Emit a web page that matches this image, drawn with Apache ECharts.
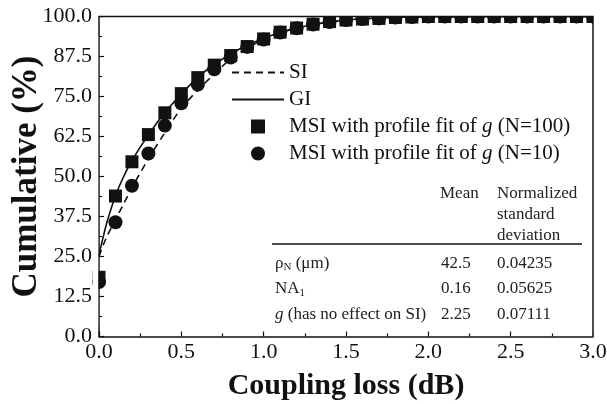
<!DOCTYPE html>
<html><head><meta charset="utf-8">
<script src="https://cdn.jsdelivr.net/npm/echarts@6/dist/echarts.min.js"></script>
<style>html,body{margin:0;padding:0;background:#fff}#c{width:607px;height:404px}</style>
</head><body><div id="c"></div>
<script>
// marker x positions (dB)
const msiX = [0.0,0.1,0.2,0.3,0.4,0.5,0.6,0.7,0.8,0.9,1.0,1.1,1.2,1.3,1.4,1.5,1.6,1.7,1.8,1.9,2.0,2.1,2.2,2.3,2.4,2.5,2.6,2.7,2.8,2.9,3.0];
const msiN100 = [18.5,43.9,54.6,63.1,69.9,75.9,80.9,84.8,87.8,90.6,93.0,95.1,96.4,97.6,98.4,98.9,99.2,99.4,99.7,99.85,100,100,100,100,100,100,100,100,100,100,100];
const msiN10  = [17.0,35.7,47.1,57.2,65.9,72.9,78.7,83.5,87.2,90.5,92.8,95.0,96.3,97.5,98.3,98.9,99.2,99.4,99.7,99.85,100,100,100,100,100,100,100,100,100,100,100];
// curves
const curveX = [0,0.025,0.05,0.1,0.15,0.2,0.3,0.4,0.5,0.6,0.7,0.8,0.9,1.0,1.1,1.2,1.3,1.4,1.5,1.6,1.8,2.0,2.5,3.0];
const giY    = [25.5,31,36,44,50,55,63,70,75.8,81,85,88.3,91,93.2,95,96.4,97.5,98.3,98.9,99.3,99.7,99.9,100,100];
const siY    = [25,28.5,31.5,36.5,41.5,46.5,55.5,63.7,71.3,77,82,86.8,90.2,92.8,94.9,96.3,97.4,98.3,98.9,99.3,99.7,99.9,100,100];
const yTicks = [0,12.5,25,37.5,50,62.5,75,87.5,100];
const legendNames = ['SI','GI','MSI with profile fit of g (N=100)','MSI with profile fit of g (N=10)'];
const tableHeader = ['Mean','Normalized','standard','deviation'];
const tableRows = [
  ['ρ{s|N} (μm)','42.5','0.04235'],
  ['NA{s|1}','0.16','0.05625'],
  ['{i|g} (has no effect on SI)','2.25','0.07111']
];

const F = '"Liberation Serif","Times New Roman",serif';
const zip = (xs, ys) => xs.map((x,i)=>[x,ys[i]]);
const chart = echarts.init(document.getElementById('c'), null, {renderer:'canvas'});

const rich = {
  i:{fontFamily:F,fontSize:21,fontStyle:'italic',color:'#111'}
};
const trich = {
  s:{fontFamily:F,fontSize:11,color:'#222',verticalAlign:'bottom',padding:[8,0,0,0]},
  i:{fontFamily:F,fontSize:17,fontStyle:'italic',color:'#222'}
};
const graphics = [];
const tx = (x,y,t) => graphics.push({type:'text',left:x,top:y,silent:true,z:20,style:{text:t,fontFamily:F,fontSize:17,fill:'#222',rich:trich}});
tx(440,185,tableHeader[0]);
tx(497,185,tableHeader[1]);
tx(497,206,tableHeader[2]);
tx(497,227,tableHeader[3]);
graphics.push({type:'line',silent:true,z:20,shape:{x1:272,y1:244,x2:582,y2:244},style:{stroke:'#111',lineWidth:1.5}});
tableRows.forEach((r,k)=>{
  const y = 255 + k*25.5;
  tx(275,y,r[0]); tx(441,y,r[1]); tx(497,y,r[2]);
});
const clearItem = {color:'rgba(0,0,0,0)',borderWidth:0};

chart.setOption({
  backgroundColor:'#fff',
  animation:false,
  grid:{left:99,right:14,top:16.5,bottom:67.5,containLabel:false,outerBoundsMode:'none',show:false},
  xAxis:{
    type:'value',min:0,max:3,interval:0.5,
    name:'Coupling loss (dB)',nameLocation:'middle',nameGap:35,nameMoveOverlap:false,
    nameTextStyle:{fontFamily:F,fontSize:30,fontWeight:'bold',color:'#111'},
    axisLine:{show:true,onZero:false,lineStyle:{color:'#111',width:1.5}},
    axisTick:{show:true,inside:true,length:5,lineStyle:{color:'#111',width:1.2}},
    minorTick:{show:true,splitNumber:2,length:3,lineStyle:{color:'#111',width:1.2}},
    axisLabel:{fontFamily:F,fontSize:22,color:'#111',margin:5,formatter:v=>v.toFixed(1)},
    splitLine:{show:false}
  },
  yAxis:{
    type:'value',min:0,max:100,interval:12.5,
    name:'Cumulative (%)',nameLocation:'middle',nameGap:55,nameRotate:90,nameMoveOverlap:false,
    nameTextStyle:{fontFamily:F,fontSize:35,fontWeight:'bold',color:'#111'},
    axisLine:{show:true,onZero:false,lineStyle:{color:'#111',width:1.5}},
    axisTick:{show:true,inside:true,length:5,lineStyle:{color:'#111',width:1.2}},
    minorTick:{show:true,splitNumber:2,length:3,lineStyle:{color:'#111',width:1.2}},
    axisLabel:{fontFamily:F,fontSize:22,color:'#111',margin:7,formatter:v=>yTicks.includes(v)?v.toFixed(1):''},
    splitLine:{show:false}
  },
  legend:{
    orient:'vertical',left:226,top:57,itemWidth:52,itemHeight:14,itemGap:6,z:20,
    textStyle:{fontFamily:F,fontSize:21,color:'#111',lineHeight:21,rich:rich},
    formatter:n=>n.replace(' g ',' {i|g} '),
    data:[
      {name:legendNames[0],itemStyle:clearItem},
      {name:legendNames[1],itemStyle:clearItem},
      {name:legendNames[2],icon:'path://M0,0L10,0L10,10L0,10Z'},
      {name:legendNames[3],icon:'circle'}
    ]
  },
  graphic:{elements:graphics},
  series:[
    {name:legendNames[0],type:'line',data:zip(curveX,siY),smooth:0.3,symbol:'none',
     lineStyle:{color:'#111',width:1.6,type:[7,5]},itemStyle:{color:'#111'},z:2},
    {name:legendNames[1],type:'line',data:zip(curveX,giY),smooth:0.3,symbol:'none',
     lineStyle:{color:'#111',width:1.6},itemStyle:{color:'#111'},z:2},
    {name:legendNames[2],type:'scatter',data:zip(msiX,msiN100),symbol:'rect',symbolSize:13,
     itemStyle:{color:'#111',opacity:1},z:3},
    {name:legendNames[3],type:'scatter',data:zip(msiX,msiN10),symbol:'circle',symbolSize:14,
     itemStyle:{color:'#111',opacity:1},z:4}
  ]
});
// mask marker overflow outside the plot, then top and right frame lines
const g = chart.getModel().getComponent('grid').coordinateSystem.getRect();
graphics.push({type:'rect',silent:true,z:30,shape:{x:g.x+1,y:0,width:g.width+20,height:g.y},style:{fill:'#fff'}});
graphics.push({type:'rect',silent:true,z:30,shape:{x:g.x+g.width,y:0,width:20,height:g.y+g.height-1},style:{fill:'#fff'}});
graphics.push({type:'rect',silent:true,z:30,shape:{x:g.x-6.5,y:g.y+20,width:5.7,height:g.height-30},style:{fill:'#fff'}});
graphics.push({type:'polyline',silent:true,z:31,shape:{points:[[g.x,g.y],[g.x+g.width,g.y],[g.x+g.width,g.y+g.height]]},style:{stroke:'#111',lineWidth:1.5,fill:null}});
chart.setOption({graphic:{elements:graphics}});
</script>
</body></html>
